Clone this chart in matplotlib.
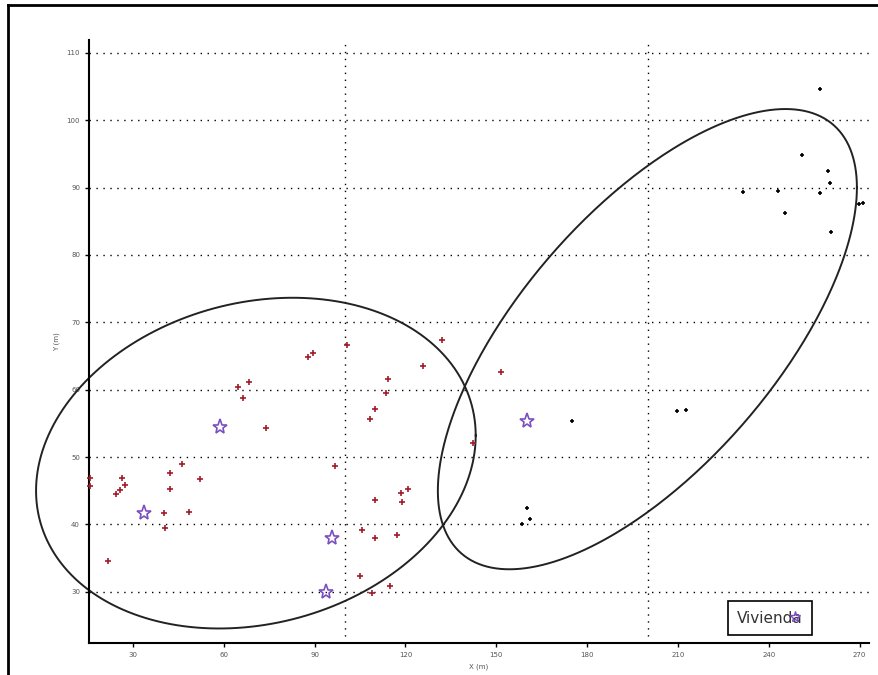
import numpy as np
import matplotlib
matplotlib.use("Agg")
import matplotlib.pyplot as plt
from matplotlib.lines import Line2D

# puntos de muestreo (X, Y en metros)
red_x = [15.8, 15.8, 21.7, 24.3, 25.8, 26.3, 27.3, 40.2, 40.6, 42.4, 42.2, 46.2, 48.4, 52.3,
         73.8, 64.8, 66.2, 68.3, 87.8, 89.5, 100.7, 132.1, 125.8, 114.3, 113.6, 110.1, 108.2,
         142.3, 96.7, 120.9, 118.5, 119.0, 110.1, 105.6, 109.9, 117.2, 104.9, 108.8, 114.8,
         151.4]
red_y = [46.9, 45.7, 34.6, 44.5, 45.1, 46.9, 45.9, 41.7, 39.4, 45.3, 47.7, 49.0, 41.8, 46.7,
         54.3, 60.4, 58.7, 61.1, 64.8, 65.5, 66.6, 67.4, 63.5, 61.6, 59.5, 57.2, 55.6,
         52.1, 48.6, 45.3, 44.6, 43.3, 43.7, 39.1, 38.0, 38.4, 32.3, 29.8, 30.9,
         62.6]

black_x = [175.1, 209.6, 212.7, 160.2, 158.6, 161.0, 257.0, 250.9, 259.7, 260.2, 231.4,
           243.1, 257.0, 245.5, 260.4, 269.7, 271.0]
black_y = [55.3, 56.8, 57.0, 42.4, 40.0, 40.8, 104.6, 94.9, 92.5, 90.7, 89.3,
           89.5, 89.2, 86.2, 83.4, 87.5, 87.7]

# viviendas
star_x = [33.5, 58.8, 95.8, 93.9, 160.2]
star_y = [41.7, 54.5, 38.0, 30.0, 55.3]

# elipses: centro y vectores (x = cx + a*cos t, y = cy + c*cos t + d*sin t)
ell_left = [70.6, 49.1, 72.6, 4.1, 24.2]
ell_right = [199.9, 67.5, 69.2, 22.5, 25.7]

xticks = [30, 60, 90, 120, 150, 180, 210, 240, 270]
yticks = [30, 40, 50, 60, 70, 80, 90, 100, 110]
vgrid = [100, 200]

fig = plt.figure(figsize=(8.79, 6.75), dpi=100)
ax = fig.add_axes([0.1013, 0.0474, 0.887, 0.8933])
ax.set_xlim(15.5, 273)
ax.set_ylim(22.4, 111.9)

for yv in yticks:
    ax.axhline(yv, color="black", lw=1, ls=(0, (1, 4)), zorder=0)
for xv in vgrid:
    ax.axvline(xv, color="black", lw=1, ls=(0, (1, 4)), zorder=0)

t = np.linspace(0, 2 * np.pi, 400)
for cx, cy, a, c, d in (ell_left, ell_right):
    ax.plot(cx + a * np.cos(t), cy + c * np.cos(t) + d * np.sin(t),
            color="#222222", lw=1.4, zorder=2, clip_on=False)

ax.plot(red_x, red_y, "+", color="#a01c28", ms=4, mew=1.2, zorder=3, clip_on=False)
ax.plot(black_x, black_y, "+", color="black", ms=3, mew=1.2, zorder=3, clip_on=False)
ax.plot(star_x, star_y, "*", ms=11, mfc="none", mec="#7b4fc0", mew=1.2, zorder=4)

star_h = Line2D([], [], ls="none", marker="*", ms=8, mfc="none", mec="#7b4fc0", mew=1.0)
leg = ax.legend([star_h], ["Vivienda"], markerfirst=False, handletextpad=-1.0,
                loc="center", bbox_to_anchor=(0.876, 0.0844), bbox_transform=fig.transFigure,
                fancybox=False, edgecolor="black", framealpha=1, fontsize=11,
                borderpad=0.6, handlelength=1.0)
leg.get_frame().set_linewidth(1.2)
for txt in leg.get_texts():
    txt.set_color("#333333")

for s in ["top", "right"]:
    ax.spines[s].set_visible(False)
ax.spines["left"].set_linewidth(1.5)
ax.spines["bottom"].set_linewidth(1.5)
ax.set_xticks(xticks)
ax.set_yticks(yticks)
ax.tick_params(labelsize=5, labelcolor="#555555", length=3, width=1)
ax.set_xlabel("X (m)", fontsize=5, color="#555555", labelpad=4)
ax.set_ylabel("Y (m)", fontsize=5, color="#555555", labelpad=5)

# marco exterior
x0, y0 = 8 / 879, 1 - 5 / 675
fig.add_artist(Line2D([x0, x0], [0, y0], color="black", lw=2))
fig.add_artist(Line2D([x0, 1], [y0, y0], color="black", lw=2))

fig.savefig("out.png", dpi=100)
